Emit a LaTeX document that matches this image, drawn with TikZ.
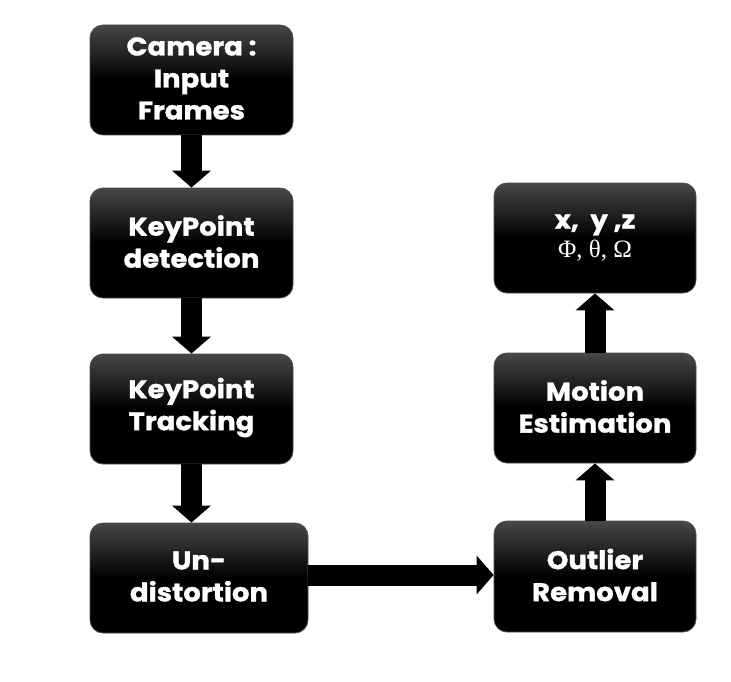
\documentclass[tikz,border=0pt]{standalone}
\usepackage{fontspec}
\setmainfont{Poppins}[BoldFont={Poppins Bold}, BoldFeatures={FakeBold=1.2, FakeStretch=1.08}]
\newfontfamily\symfont{Liberation Serif}
\usetikzlibrary{arrows.meta}
\tikzset{
  box/.style={rounded corners=13pt, top color=black!72, bottom color=black, middle color=black,
    draw=black!70, line width=0.8pt, text=white, align=center,
    font=\fontsize{25.5}{32}\selectfont\bfseries, inner sep=0pt},
  fat/.style={line width=21pt, -{Triangle[width=38pt,length=17pt]}, black}
}
\begin{document}
\begin{tikzpicture}[x=1pt,y=-1pt]
\useasboundingbox (0,0) rectangle (731,682);
\node[box, minimum width=203pt, minimum height=110pt] (cam) at (191.5,80) {Camera :\\Input\\Frames\vspace{3pt}};
\node[box, minimum width=203pt, minimum height=110pt] (det) at (191.5,243) {KeyPoint\\detection\vspace{3pt}};
\node[box, minimum width=203pt, minimum height=110pt] (trk) at (191.5,409) {KeyPoint\\Tracking\vspace{3pt}};
\node[box, minimum width=218pt, minimum height=110pt] (und) at (199,578) {Un-\\distortion\vspace{3pt}};
\node[box, minimum width=202pt, minimum height=110pt] (xyz) at (595,238) {x,\ \ y ,z\\[-3pt]{\symfont\mdseries\fontsize{25}{28}\selectfont Φ, θ, Ω}};
\node[box, minimum width=202pt, minimum height=110pt] (mot) at (595,408) {Motion\\Estimation\vspace{3pt}};
\node[box, minimum width=202pt, minimum height=111pt] (out) at (595,576.5) {Outlier\\Removal\vspace{3pt}};
\draw[fat] (cam.south) -- (det.north);
\draw[fat] (det.south) -- (trk.north);
\draw[fat] (trk.south) -- (trk.south |- und.north);
\draw[fat] ([yshift=3pt]und.east) -- ([yshift=3pt]und.east -| out.west);
\draw[fat] (out.north) -- (mot.south);
\draw[fat] (mot.north) -- (xyz.south);
\end{tikzpicture}
\end{document}
